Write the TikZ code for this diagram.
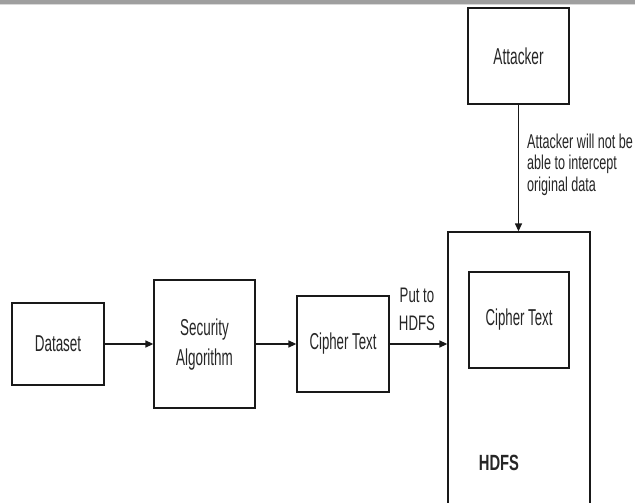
\documentclass[tikz,border=0pt]{standalone}
\usepackage{fontspec}
\setmainfont{Liberation Sans}
\usetikzlibrary{arrows.meta}
\newcommand{\sq}[2]{\scalebox{#1}[1]{#2}}
\begin{document}
\begin{tikzpicture}[x=1pt,y=-1pt,
  box/.style={draw=black!90, line width=1.3pt, rectangle, inner sep=0pt, text=black!85},
  arr/.style={line width=1.3pt, draw=black!90, -{Triangle[length=8pt,width=7pt]}},
  mainfont/.style={font=\fontsize{23}{30}\selectfont},
  lbl/.style={text=black!85, inner sep=0pt}]
\clip (0,0) rectangle (635,503);
\fill[white] (0,0) rectangle (635,503);
\fill[gray!75] (0,0) rectangle (635,4);
\fill[gray!30] (0,4) rectangle (635,5.5);
% boxes
\node[box, minimum width=92pt, minimum height=82pt, mainfont] (dataset) at (58,344) {\sq{0.585}{Dataset}};
\node[box, minimum width=101pt, minimum height=128pt, mainfont] (secalg) at (204.5,344) {\sq{0.585}{\begin{tabular}{@{}c@{}}Security\\Algorithm\end{tabular}}};
\node[box, minimum width=92pt, minimum height=96pt, mainfont] (cipher) at (343,344) {\sq{0.575}{Cipher Text}};
\node[box, minimum width=101pt, minimum height=96pt, mainfont] (attacker) at (518.5,56) {\sq{0.595}{Attacker}};
\node[box, minimum width=142pt, minimum height=290pt] (hdfs) at (519,377) {};
\node[box, minimum width=100pt, minimum height=96pt, mainfont] (incipher) at (519,320) {\sq{0.575}{Cipher Text}};
\node[lbl, font=\fontsize{22}{25}\selectfont\bfseries] (hdfslbl) at (499,463) {\sq{0.67}{HDFS}};
% connectors
\draw[arr] (dataset.east) -- (secalg.west |- dataset.east);
\draw[arr] (secalg.east) -- (cipher.west |- secalg.east);
\draw[arr] (cipher.east) -- (cipher.east -| hdfs.west);
\draw[arr] (attacker.south) -- (attacker.south |- hdfs.north);
% labels
\node[lbl, font=\fontsize{21}{28}\selectfont] (putlbl) at (417,311) {\sq{0.63}{\begin{tabular}{@{}c@{}}Put to\\HDFS\end{tabular}}};
\node[lbl, anchor=north west, font=\fontsize{20}{21.5}\selectfont] (attlbl) at (527,133) {\sq{0.63}{\begin{tabular}{@{}l@{}}Attacker will not be\\able to intercept\\original data\end{tabular}}};
\end{tikzpicture}
\end{document}
